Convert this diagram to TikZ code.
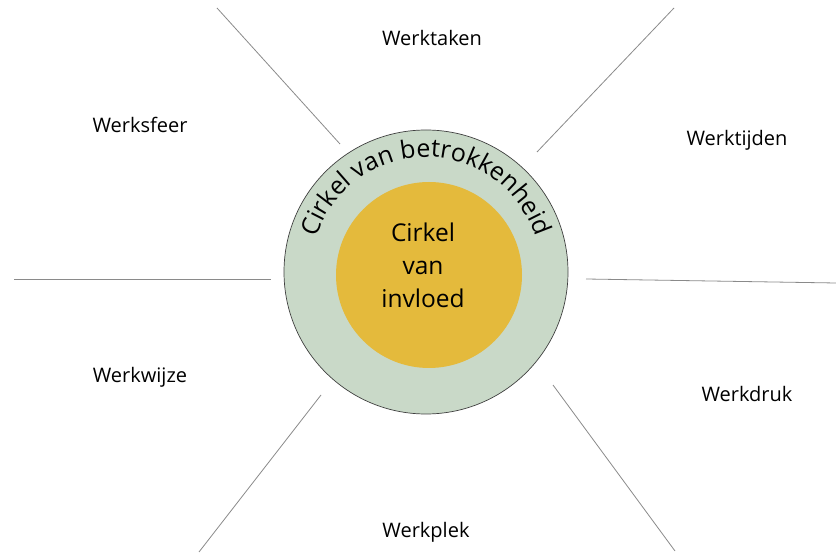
\documentclass[tikz,border=0pt]{standalone}
\usepackage{fontspec}
\setmainfont{Open Sans}
\usetikzlibrary{decorations.text}
\definecolor{ringgreen}{HTML}{C9D9C8}
\definecolor{gold}{HTML}{E4BA3C}
\definecolor{sepgray}{HTML}{8A8A8A}
\begin{document}
\begin{tikzpicture}[x=1pt,y=1pt,
  sep/.style={draw=sepgray,line width=0.8pt},
  lbl/.style={font=\fontsize{20}{22}\selectfont,text=black,inner sep=0pt}]
\useasboundingbox (0,0) rectangle (836,552);
% separator lines
\coordinate (tl1) at (217,544); \coordinate (tl2) at (340,408);
\coordinate (tr1) at (674,544); \coordinate (tr2) at (537,400);
\coordinate (l1) at (14,273);  \coordinate (l2) at (271,273);
\coordinate (r1) at (586,273); \coordinate (r2) at (836,269);
\coordinate (bl1) at (321,157); \coordinate (bl2) at (199,0);
\coordinate (br1) at (553,167); \coordinate (br2) at (675,1);
\draw[sep] (tl1) -- (tl2);
\draw[sep] (tr1) -- (tr2);
\draw[sep] (l1) -- (l2);
\draw[sep] (r1) -- (r2);
\draw[sep] (bl1) -- (bl2);
\draw[sep] (br1) -- (br2);
% circles
\node[circle,draw=black!75,line width=0.7pt,fill=ringgreen,minimum size=284pt,inner sep=0pt] (outer) at (426,280) {};
\node[circle,fill=gold,minimum size=186pt,inner sep=0pt] (inner) at (429,277) {};
\node[font=\fontsize{24.5}{33}\selectfont,align=center,inner sep=0pt] (invl) at (423,287) {Cirkel\\van\\invloed};
\path[decorate,decoration={text along path,text align=center,
  text={|\fontsize{25}{26}\selectfont|Cirkel van betrokkenheid}}]
  (426,280) ++(170:115) arc[start angle=170,end angle=10,radius=115];
% labels
\node[lbl] (taken) at (432,514) {Werktaken};
\node[lbl] (sfeer) at (140,427) {Werksfeer};
\node[lbl] (tijden) at (737,412) {Werktijden};
\node[lbl] (wijze) at (140,175) {Werkwijze};
\node[lbl] (druk) at (747,158) {Werkdruk};
\node[lbl] (plek) at (426,20) {Werkplek};
\end{tikzpicture}
\end{document}
